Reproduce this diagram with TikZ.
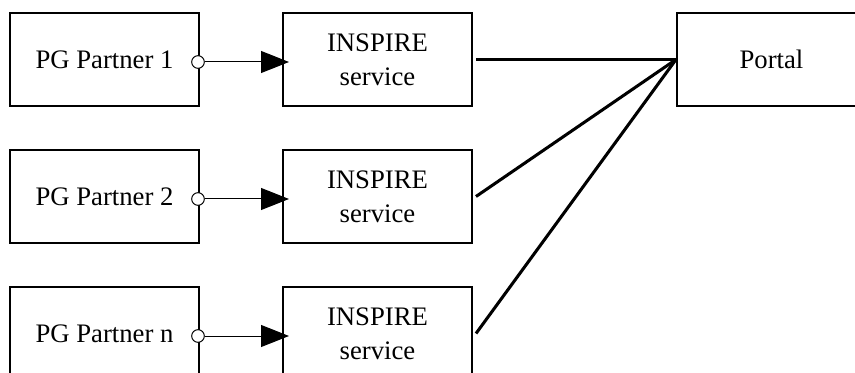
\documentclass[tikz,border=0pt]{standalone}
\usepackage{fontspec}
\setmainfont{Liberation Serif}
\usetikzlibrary{calc,positioning,arrows.meta}

\begin{document}
\begin{tikzpicture}[x=0.03cm, y=-0.03cm
        , box/.style={ draw, line width=1.7pt, minimum width=5.67cm, minimum height=2.79cm
                     , inner sep=0pt, align=center, font=\fontsize{22.8}{25}\selectfont }
        , plug/.style={ circle, draw, line width=0.85pt, fill=white, inner sep=0pt, minimum size=0.38cm }
        , feed/.style={ draw, line width=0.85pt, -{Triangle[length=0.84cm, width=0.66cm]}, shorten >=-0.21cm }
        , link/.style={ draw, line width=2.6pt }
        ]

        \useasboundingbox (0,0) rectangle (855,373);

        % partners and their services, one row each
        \foreach \r/\y/\lbl in {1/59.5/1, 2/196.5/2, 3/333.5/n} {
            \node[box] (p\r) at (104.5,\y) {PG Partner \lbl};
            \node[box] (s\r) at (377.5,\y) {INSPIRE\\[4pt]service};
            \node[plug] (o\r) at ($(p\r.east)+(-2,2.5)$) {};
            \path[feed] (o\r) -- (o\r -| s\r.west);
        }

        \node[box] (portal) at (771.5,59.5) {Portal};

        % every service is linked to the portal
        \foreach \r in {1,2,3}
            \path[link] ($(s\r.east)+(3,0)$) -- (portal.west);

    \end{tikzpicture}
\end{document}
